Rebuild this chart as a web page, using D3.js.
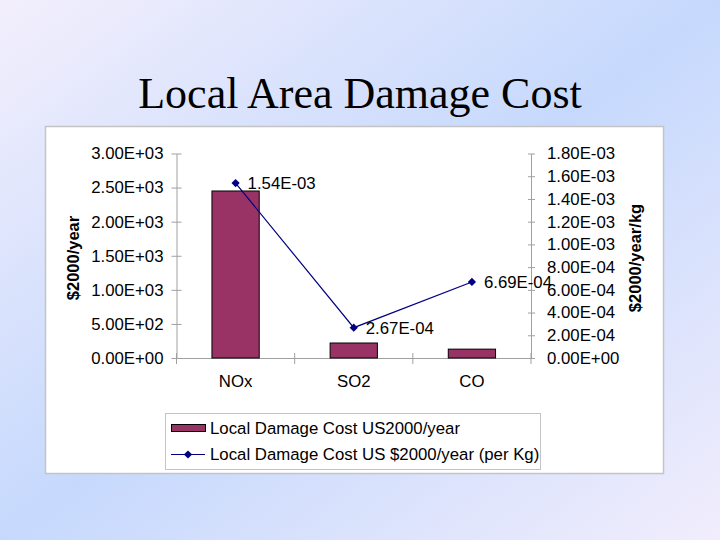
<!DOCTYPE html>
<html lang="en">
<head>
<meta charset="UTF-8">
<title>Local Area Damage Cost</title>
<script src="https://cdn.jsdelivr.net/npm/d3@7/dist/d3.min.js"></script>
<style>
    html, body { margin: 0; padding: 0; }
    svg { display: block; }
    text { font-family: Arial, 'Liberation Sans', sans-serif; fill: #000; }
    .axis path, .axis line { stroke: #a0a0a0; stroke-width: 1px; }
    .axis text { font-size: 16.8px; fill: #000; }
</style>
</head>
<body>
<script>
    const categories = ['NOx', 'SO2', 'CO'];
    const annualCost = [2450, 220, 130];                 // US$2000/year
    const perKgCost = [1.54e-3, 2.67e-4, 6.69e-4];       // US$2000/year per kg
    const leftTicks = [0, 500, 1000, 1500, 2000, 2500, 3000];
    const rightTicks = [0, 2e-4, 4e-4, 6e-4, 8e-4, 1e-3, 1.2e-3, 1.4e-3, 1.6e-3, 1.8e-3];
    const legendLabels = ['Local Damage Cost US2000/year', 'Local Damage Cost US $2000/year (per Kg)'];

    const width = 720, height = 540;
    const plot = {left: 176.5, right: 531, top: 153.5, bottom: 358};
    const barColour = '#993366';
    const lineColour = '#000080';

    // excel style exponent, e.g. 3.00E+03
    function sci(v) {
        let s = v.toExponential(2).toUpperCase();
        return s.replace(/E([+-])(\d)$/, 'E$10$2');
    }

    let svg = d3.select('body').append('svg')
        .attr('width', width)
        .attr('height', height);

    // slide background
    let defs = svg.append('defs');
    let grad = defs.append('linearGradient')
        .attr('id', 'bg')
        .attr('x1', 0).attr('y1', 0).attr('x2', 1).attr('y2', 1);
    grad.append('stop').attr('offset', '0%').attr('stop-color', '#f3effc');
    grad.append('stop').attr('offset', '50%').attr('stop-color', '#c6d9fd');
    grad.append('stop').attr('offset', '100%').attr('stop-color', '#f1edfc');

    svg.append('rect')
        .attr('width', width)
        .attr('height', height)
        .style('fill', 'url(#bg)');

    svg.append('text')
        .attr('x', 360)
        .attr('y', 108)
        .attr('text-anchor', 'middle')
        .style('font-family', "'Times New Roman', 'Liberation Serif', serif")
        .style('font-size', '44px')
        .text('Local Area Damage Cost');

    // chart panel
    svg.append('rect')
        .attr('x', 45.5)
        .attr('y', 126.5)
        .attr('width', 618)
        .attr('height', 347)
        .style('fill', '#fff')
        .style('stroke', '#c4c4c4')
        .style('stroke-width', '1.5px');

    let x = d3.scaleBand()
        .domain(categories)
        .range([plot.left, plot.right])
        .paddingInner(0.6)
        .paddingOuter(0.3);

    let yLeft = d3.scaleLinear()
        .domain([0, 3000])
        .range([plot.bottom, plot.top]);

    let yRight = d3.scaleLinear()
        .domain([0, 1.8e-3])
        .range([plot.bottom, plot.top]);

    // left axis
    let leftAxis = svg.append('g')
        .attr('class', 'axis')
        .attr('transform', 'translate(' + plot.left + ',0)')
        .call(d3.axisLeft(yLeft).tickValues(leftTicks).tickFormat(sci).tickSize(5).tickSizeOuter(0).tickPadding(8));
    leftAxis.selectAll('.tick line').attr('x2', -5).attr('x1', 5);

    // right axis
    let rightAxis = svg.append('g')
        .attr('class', 'axis')
        .attr('transform', 'translate(' + plot.right + ',0)')
        .call(d3.axisRight(yRight).tickValues(rightTicks).tickFormat(sci).tickSize(4).tickSizeOuter(0).tickPadding(12));
    rightAxis.selectAll('.tick line').attr('x1', -3).attr('x2', 4);

    // category axis
    let bottomAxis = svg.append('g')
        .attr('class', 'axis')
        .attr('transform', 'translate(0,' + plot.bottom + ')')
        .call(d3.axisBottom(x).tickSize(0).tickSizeOuter(0).tickPadding(15));
    bottomAxis.selectAll('.tick text').attr('dy', '0.85em');
    let bounds = d3.range(categories.length + 1).map(function(i) { return plot.left + i * x.step(); });
    bottomAxis.selectAll('.bound')
        .data(bounds)
        .enter().append('line')
        .attr('x1', function(d) { return d; })
        .attr('x2', function(d) { return d; })
        .attr('y1', -5)
        .attr('y2', 6);

    // axis titles
    svg.append('text')
        .attr('transform', 'translate(79,258) rotate(-90)')
        .attr('text-anchor', 'middle')
        .style('font-size', '16.5px')
        .style('font-weight', 'bold')
        .text('$2000/year');

    svg.append('text')
        .attr('transform', 'translate(641,258) rotate(-90)')
        .attr('text-anchor', 'middle')
        .style('font-size', '16.5px')
        .style('font-weight', 'bold')
        .text('$2000/year/kg');

    // bars
    svg.append('g').selectAll('rect')
        .data(annualCost)
        .enter().append('rect')
        .attr('x', function(d, i) { return x(categories[i]); })
        .attr('y', function(d) { return yLeft(d); })
        .attr('width', x.bandwidth())
        .attr('height', function(d) { return plot.bottom - yLeft(d); })
        .style('fill', barColour)
        .style('stroke', '#000')
        .style('stroke-width', '1px');

    // line series
    let pts = perKgCost.map(function(d, i) {
        return {x: x(categories[i]) + x.bandwidth() / 2, y: yRight(d), v: d};
    });

    svg.append('path')
        .datum(pts)
        .attr('d', d3.line().x(function(d) { return d.x; }).y(function(d) { return d.y; }))
        .style('fill', 'none')
        .style('stroke', lineColour)
        .style('stroke-width', '1.2px');

    let diamond = d3.symbol(d3.symbolSquare, 34);

    svg.append('g').selectAll('path')
        .data(pts)
        .enter().append('path')
        .attr('d', diamond)
        .attr('transform', function(d) { return 'translate(' + d.x + ',' + d.y + ') rotate(45)'; })
        .style('fill', lineColour);

    svg.append('g').selectAll('text')
        .data(pts)
        .enter().append('text')
        .attr('x', function(d) { return d.x + 12; })
        .attr('y', function(d) { return d.y; })
        .attr('dy', '0.35em')
        .style('font-size', '16.8px')
        .text(function(d) { return sci(d.v); });

    // legend
    let legend = svg.append('g');
    legend.append('rect')
        .attr('x', 165.5)
        .attr('y', 413.5)
        .attr('width', 375)
        .attr('height', 56)
        .style('fill', '#fff')
        .style('stroke', '#c4c4c4')
        .style('stroke-width', '1px');

    legend.append('rect')
        .attr('x', 171.5)
        .attr('y', 424.5)
        .attr('width', 34)
        .attr('height', 7)
        .style('fill', barColour)
        .style('stroke', '#000');

    legend.append('line')
        .attr('x1', 171)
        .attr('x2', 205)
        .attr('y1', 454.5)
        .attr('y2', 454.5)
        .style('stroke', lineColour)
        .style('stroke-width', '1.2px');

    legend.append('path')
        .attr('d', diamond)
        .attr('transform', 'translate(188,454.5) rotate(45)')
        .style('fill', lineColour);

    legend.selectAll('.label')
        .data(legendLabels)
        .enter().append('text')
        .attr('x', 210)
        .attr('y', function(d, i) { return 428 + i * 26.5; })
        .attr('dy', '0.35em')
        .style('font-size', '16.8px')
        .text(function(d) { return d; });
</script>
</body>
</html>
